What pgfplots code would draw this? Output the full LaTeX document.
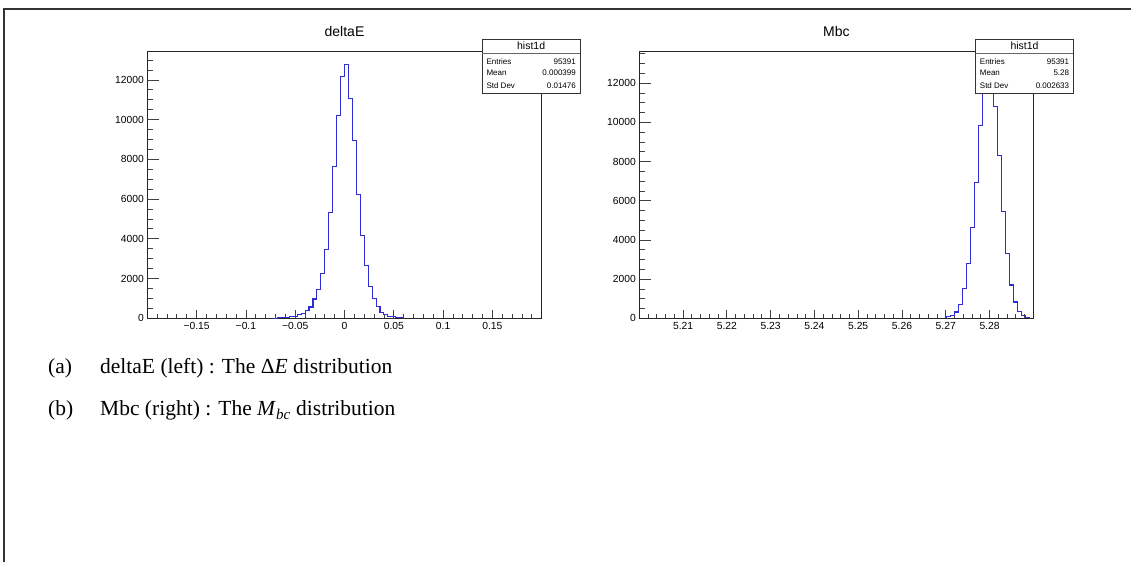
\documentclass[border=0pt]{standalone}
\usepackage{fontspec}
\setmainfont{Liberation Serif}
\newfontfamily\rootfont{Liberation Sans}
\usepackage{pgfplots}
\pgfplotsset{compat=1.18}

\definecolor{histblue}{RGB}{45,45,215}

\pgfplotsset{
  rootaxis/.style={
    scale only axis, anchor=south west, height=267pt,
    ymin=0, scaled ticks=false,
    tick align=inside, xtick pos=left, ytick pos=left,
    axis line style={black!85, line width=0.9pt},
    tick style={black!75, line width=0.8pt},
    major tick length=11.5pt, minor tick length=5.8pt,
    xtick style={/pgfplots/major tick length=8pt, /pgfplots/minor tick length=4pt},
    ytick={0,2000,4000,6000,8000,10000,12000},
    yticklabels={0,2000,4000,6000,8000,10000,12000},
    ticklabel style={font=\rootfont\fontsize{10.3}{12}\selectfont},
  },
}

\begin{document}
\begin{tikzpicture}[x=1pt,y=1pt]
\useasboundingbox (0,0) rectangle (1131,562);
% page frame
\draw[line width=1.8pt, black!80] (3.8,0) -- (3.8,553.2) -- (1131,553.2);

% deltaE
\begin{axis}[rootaxis, at={(147.3pt,243.7pt)}, width=394.4pt,
  xmin=-0.2, xmax=0.2, ymax=13440,
  xtick={-0.15,-0.1,-0.05,0,0.05,0.1,0.15},
  xticklabels={−0.15,−0.1,−0.05,0,0.05,0.1,0.15},
  minor xtick={-0.19,-0.18,...,0.19},
  minor ytick={500,1000,...,13000},
]
\addplot[const plot, histblue, line width=1.1pt] coordinates {
  (-0.072,0) (-0.072,10) (-0.068,20) (-0.064,30) (-0.060,50) (-0.056,80)
  (-0.052,100) (-0.048,170) (-0.044,220) (-0.040,400) (-0.036,570)
  (-0.032,970) (-0.028,1440) (-0.024,2250) (-0.020,3460) (-0.016,5340)
  (-0.012,7620) (-0.008,10200) (-0.004,12190) (0.000,12790) (0.004,11080)
  (0.008,8960) (0.012,6240) (0.016,4180) (0.020,2650) (0.024,1610)
  (0.028,1010) (0.032,600) (0.036,300) (0.040,170) (0.044,100)
  (0.048,70) (0.052,50) (0.056,30) (0.060,0)};
\end{axis}

% Mbc
\begin{axis}[rootaxis, at={(639.3pt,243.7pt)}, width=394pt,
  xmin=5.2, xmax=5.29, ymax=13630,
  xtick={5.21,5.22,5.23,5.24,5.25,5.26,5.27,5.28},
  xticklabels={5.21,5.22,5.23,5.24,5.25,5.26,5.27,5.28},
  minor xtick={5.202,5.204,...,5.2885},
  minor ytick={500,1000,...,13500},
]
\addplot[const plot, histblue, line width=1.1pt] coordinates {
  (5.2702,0) (5.2702,70) (5.2711,150) (5.2720,320) (5.2729,710)
  (5.2738,1500) (5.2747,2810) (5.2756,4630) (5.2765,6940) (5.2774,9860)
  (5.2783,12050) (5.2792,12980) (5.2801,12560) (5.2810,10810)
  (5.2819,8320) (5.2828,5460) (5.2837,3300) (5.2846,1700) (5.2855,830)
  (5.2864,340) (5.2873,120) (5.2882,30) (5.2891,0)};
\end{axis}

% titles
\node[font=\rootfont\fontsize{14}{16}\selectfont, anchor=base] at (344.5,525) {deltaE};
\node[font=\rootfont\fontsize{14}{16}\selectfont, anchor=base] at (836.3,525) {Mbc};

% stats boxes
\foreach \xl/\xr/\va/\vb/\vc in {482.3/580/95391/0.000399/0.01476, 975.7/1073.3/95391/5.28/0.002633} {
  \fill[white] (\xl,468.7) rectangle (\xr,522.7);
  \draw[black!80, line width=0.8pt] (\xl,468.7) rectangle (\xr,522.7);
  \draw[black!60, line width=1.4pt] (\xl,508.4) -- (\xr,508.4);
  \node[font=\rootfont\fontsize{10.5}{12}\selectfont, inner sep=0] at ({(\xl+\xr)/2},516) {hist1d};
  \begin{scope}[every node/.style={font=\rootfont\fontsize{8}{9}\selectfont, inner sep=0}]
    \node[anchor=west] at (\xl+4,500.5) {Entries};
    \node[anchor=west] at (\xl+4,488.8) {Mean};
    \node[anchor=west] at (\xl+4,476.5) {Std Dev};
    \node[anchor=east] at (\xr-4,500.5) {\va};
    \node[anchor=east] at (\xr-4,488.8) {\vb};
    \node[anchor=east] at (\xr-4,476.5) {\vc};
  \end{scope}
}

% caption
\begin{scope}[every node/.style={font=\fontsize{21.5}{24}\selectfont, inner sep=0, anchor=base west}]
  \node at (48,188) {(a)};
  \node at (100,188) {deltaE (left) : The Δ\textit{E} distribution};
  \node at (48,146) {(b)};
  \node at (100,146) {Mbc (right) : The \textit{M}\textsubscript{\textit{bc}} distribution};
\end{scope}
\end{tikzpicture}
\end{document}
